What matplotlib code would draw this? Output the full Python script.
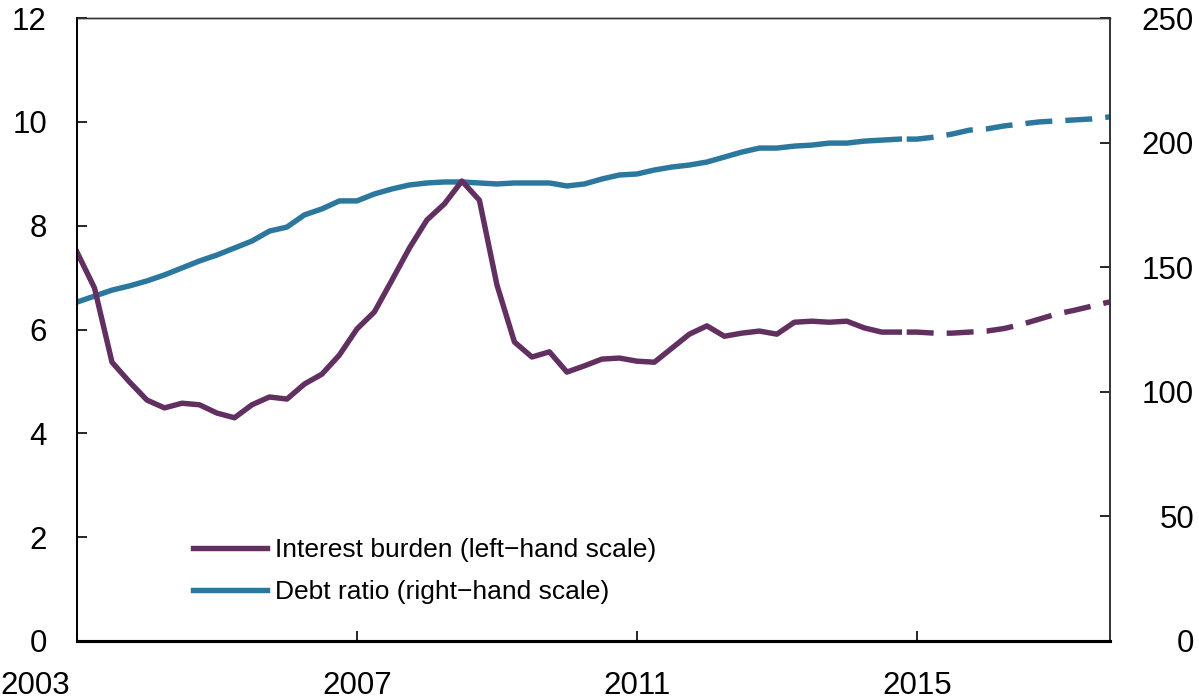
import matplotlib
matplotlib.use('Agg')
import matplotlib.pyplot as plt

plt.rcParams['font.family'] = ['Liberation Sans', 'DejaVu Sans']
plt.rcParams['lines.scale_dashes'] = False

# Quarterly data, 2003Q1 - 2017Q4 (projections from 2015)
quarters = [2003 + i / 4 for i in range(60)]
interest_burden = [
    7.49, 6.80, 5.37, 4.99, 4.64, 4.49, 4.58, 4.55, 4.39, 4.30,
    4.55, 4.70, 4.66, 4.95, 5.14, 5.51, 6.01, 6.34, 6.95, 7.57,
    8.11, 8.42, 8.86, 8.49, 6.86, 5.76, 5.47, 5.57, 5.18, 5.30,
    5.43, 5.45, 5.39, 5.37, 5.64, 5.91, 6.07, 5.87, 5.93, 5.97,
    5.91, 6.14, 6.16, 6.14, 6.16, 6.03, 5.95, 5.95, 5.95, 5.93,
    5.93, 5.95, 5.97, 6.02, 6.10, 6.20, 6.30, 6.37, 6.45, 6.53,
]
debt_ratio = [
    136.0, 138.4, 140.8, 142.5, 144.5, 146.9, 149.7, 152.5, 154.9, 157.7,
    160.5, 164.5, 166.1, 171.0, 173.4, 176.6, 176.6, 179.4, 181.4, 183.0,
    183.8, 184.2, 184.2, 183.8, 183.4, 183.8, 183.8, 183.8, 182.6, 183.4,
    185.4, 187.0, 187.4, 189.0, 190.2, 191.0, 192.2, 194.2, 196.2, 197.8,
    197.8, 198.6, 199.0, 199.8, 199.8, 200.6, 201.0, 201.4, 201.4, 202.2,
    203.4, 205.0, 205.5, 206.7, 207.5, 208.3, 208.7, 209.1, 209.5, 210.3,
]
last_actual = 47  # 2014Q4
year_ticks = [2003, 2007, 2011, 2015]
left_ticks = [0, 2, 4, 6, 8, 10, 12]
right_ticks = [0, 50, 100, 150, 200, 250]

purple = '#612f60'
blue = '#2b779e'
lw = 3.9
dash = (23.5, (19.4, 9.4))

fig = plt.figure(figsize=(11.99, 6.99), dpi=100)
ax = fig.add_axes([77 / 1199, 58 / 699, 1033 / 1199, 623 / 699])
ax2 = ax.twinx()
ax.set_zorder(ax2.get_zorder() + 1)
ax.patch.set_visible(False)

# left-hand: interest burden
l1, = ax.plot(quarters[:last_actual + 1], interest_burden[:last_actual + 1],
              color=purple, lw=lw)
ax.plot(quarters[last_actual:], interest_burden[last_actual:],
        color=purple, lw=lw, linestyle=dash)

# right-hand: debt ratio
l2, = ax2.plot(quarters[:last_actual + 1], debt_ratio[:last_actual + 1],
               color=blue, lw=lw)
ax2.plot(quarters[last_actual:], debt_ratio[last_actual:],
         color=blue, lw=lw, linestyle=dash)

ax.set_xlim(2003, 2017.76)
ax.set_ylim(0, 12)
ax2.set_ylim(0, 250)
ax.set_yticks(left_ticks)
ax2.set_yticks(right_ticks)
ax.set_xticks(year_ticks)
ax.set_xticklabels([''] + [str(y) for y in year_ticks[1:]])

ax.tick_params(axis='both', direction='in', length=7, width=1.2,
               labelsize=22.5, pad=21.6, colors='black')
ax.tick_params(axis='x', top=False)
ax2.tick_params(axis='y', direction='in', length=7.5, width=1.2,
                labelsize=22.5, pad=60.5, colors='black')
for lbl in ax2.get_yticklabels():
    lbl.set_horizontalalignment('right')

# first year label sits left of the axis, flush with the figure edge
ax.annotate(str(year_ticks[0]), xy=(year_ticks[0], 0),
            xycoords=('data', 'axes fraction'), xytext=(-55, -21.6),
            textcoords='offset points', ha='left', va='top', fontsize=22.5)

for a in (ax, ax2):
    a.spines['bottom'].set_linewidth(2.2)
    a.spines['left'].set_linewidth(1.3)
    a.spines['top'].set_linewidth(1.0)
    a.spines['right'].set_linewidth(1.2)
    a.spines['top'].set_color('#333333')
    a.spines['right'].set_color('#333333')

ax.legend([l1, l2], ['Interest burden (left\u2212hand scale)',
                     'Debt ratio (right\u2212hand scale)'],
          loc='upper left', bbox_to_anchor=(193 / 1199, 1 - 538 / 699),
          bbox_transform=fig.transFigure, frameon=False, fontsize=19,
          handlelength=2.8, handletextpad=0.3, labelspacing=0.68,
          borderpad=0, borderaxespad=0)

fig.savefig('out.png', dpi=100)
